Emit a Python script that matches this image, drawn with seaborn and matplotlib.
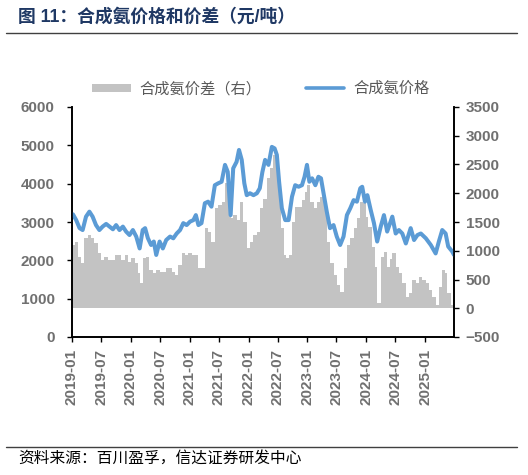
import numpy as np
import pandas as pd
import matplotlib
matplotlib.use("Agg")
import matplotlib.pyplot as plt
import matplotlib.dates as mdates
from matplotlib.patches import Patch
from matplotlib.lines import Line2D
import seaborn as sns

# ---------------- data ----------------
price_dates = [
    "2019-01-02", "2019-01-07", "2019-01-27", "2019-02-17", "2019-03-08", "2019-03-29", "2019-04-19",
    "2019-05-09", "2019-05-30", "2019-06-20", "2019-07-10", "2019-08-01", "2019-08-22",
    "2019-09-12", "2019-10-02", "2019-10-23", "2019-11-13", "2019-12-03", "2019-12-24",
    "2020-01-14", "2020-02-04", "2020-02-25", "2020-03-15", "2020-03-30", "2020-04-16",
    "2020-05-06", "2020-05-23", "2020-06-07", "2020-06-28", "2020-07-18", "2020-08-08",
    "2020-09-01", "2020-09-21", "2020-10-12", "2020-11-02", "2020-11-22", "2020-12-13",
    "2021-01-03", "2021-01-24", "2021-02-08", "2021-02-24", "2021-03-15", "2021-04-05",
    "2021-04-25", "2021-05-16", "2021-06-06", "2021-06-27", "2021-07-18", "2021-08-08",
    "2021-08-25", "2021-09-12", "2021-09-28", "2021-10-19", "2021-11-03", "2021-11-20",
    "2021-12-06", "2021-12-21", "2022-01-10", "2022-02-01", "2022-02-22", "2022-03-12",
    "2022-03-28", "2022-04-14", "2022-05-05", "2022-05-26", "2022-06-12", "2022-06-26",
    "2022-07-10", "2022-07-27", "2022-08-17", "2022-09-07", "2022-09-28", "2022-10-18",
    "2022-11-08", "2022-11-29", "2022-12-15", "2022-12-30", "2023-01-14", "2023-01-31",
    "2023-02-20", "2023-03-11", "2023-03-27", "2023-04-12", "2023-05-02", "2023-05-22",
    "2023-06-13", "2023-07-03", "2023-07-24", "2023-08-14", "2023-09-04", "2023-09-25",
    "2023-10-16", "2023-11-05", "2023-11-26", "2023-12-08", "2023-12-25", "2024-01-09",
    "2024-01-30", "2024-02-19", "2024-03-10", "2024-04-01", "2024-04-21", "2024-05-11",
    "2024-06-12", "2024-07-03", "2024-07-23", "2024-08-13", "2024-09-04", "2024-10-04",
    "2024-10-25", "2024-11-15", "2024-12-06", "2025-01-06", "2025-02-06", "2025-03-08",
    "2025-03-28", "2025-04-18", "2025-05-09", "2025-05-25", "2025-06-19", "2025-06-30",
]
price_values = [
    3200, 3200, 3050, 2840, 2790, 3140, 3270,
    3140, 2920, 2790, 2880, 2950, 2880,
    2810, 2920, 2790, 2880, 2750, 2660,
    2790, 2620, 2310, 2790, 2840, 2580,
    2400, 2490, 2140, 2490, 2310, 2530,
    2620, 2575, 2700, 2790, 2970, 2920,
    3010, 3050, 3180, 2920, 2970, 3490,
    3530, 3400, 3960, 4010, 4050, 4490,
    4310, 3180, 4400, 4570, 4880, 4620,
    4010, 3700, 3750, 3700, 3750, 3880,
    4300, 4620, 4490, 4960, 4920, 4750,
    4050, 3360, 3050, 3050, 3660, 3960,
    3920, 3960, 4180, 4490, 4050, 4140,
    3960, 4180, 4140, 3750, 3270, 2840,
    2920, 2620, 2400, 2620, 3180, 3360,
    3570, 3530, 3880, 3920, 3530, 3700,
    3310, 2970, 2490, 2880, 3180, 2750,
    3140, 2700, 2790, 2700, 2440, 2840,
    2530, 2660, 2700, 2575, 2400, 2180,
    2490, 2790, 2700, 2360, 2230, 2140,
]

spread_dates = [
    "2019-01-02", "2019-01-17", "2019-02-07", "2019-02-28", "2019-03-19", "2019-04-09", "2019-04-29",
    "2019-05-20", "2019-06-10", "2019-07-01", "2019-07-21", "2019-08-11", "2019-09-01",
    "2019-09-22", "2019-10-12", "2019-11-02", "2019-11-23", "2019-12-14", "2020-01-04",
    "2020-01-25", "2020-02-15", "2020-02-25", "2020-03-15", "2020-04-05", "2020-04-26",
    "2020-05-17", "2020-06-07", "2020-06-28", "2020-07-18", "2020-08-08", "2020-08-20",
    "2020-09-11", "2020-10-01", "2020-10-22", "2020-11-12", "2020-12-02", "2020-12-23",
    "2021-01-14", "2021-02-03", "2021-02-24", "2021-03-15", "2021-04-05", "2021-04-25",
    "2021-05-16", "2021-06-06", "2021-06-27", "2021-07-18", "2021-08-08", "2021-08-25",
    "2021-09-12", "2021-09-28", "2021-10-19", "2021-11-09", "2021-11-30", "2021-12-21",
    "2022-01-10", "2022-02-01", "2022-02-22", "2022-03-12", "2022-04-03", "2022-04-25",
    "2022-05-15", "2022-06-05", "2022-06-20", "2022-07-06", "2022-07-22", "2022-08-07",
    "2022-08-21", "2022-09-07", "2022-09-28", "2022-10-18", "2022-11-08", "2022-11-29",
    "2022-12-15", "2022-12-30", "2023-01-20", "2023-02-10", "2023-03-01", "2023-03-21",
    "2023-04-12", "2023-05-02", "2023-05-22", "2023-06-13", "2023-07-03", "2023-07-24",
    "2023-08-14", "2023-09-04", "2023-09-25", "2023-10-16", "2023-11-05", "2023-11-26",
    "2023-12-13", "2023-12-29", "2024-01-15", "2024-02-05", "2024-02-26", "2024-03-10",
    "2024-04-01", "2024-04-21", "2024-05-11", "2024-05-28", "2024-06-12", "2024-07-03",
    "2024-07-23", "2024-08-13", "2024-09-04", "2024-09-24", "2024-10-14", "2024-11-05",
    "2024-11-25", "2024-12-16", "2025-01-06", "2025-01-27", "2025-02-16", "2025-03-08",
    "2025-03-28", "2025-04-18", "2025-05-04", "2025-05-19", "2025-06-09", "2025-06-29",
]
spread_values = [
    1100, 1157, 896, 782, 1217, 1274, 1217,
    1130, 957, 839, 896, 839, 839,
    926, 926, 839, 926, 809, 868,
    782, 607, 433, 868, 896, 665,
    607, 665, 636, 636, 694, 694,
    636, 578, 752, 955, 926, 955,
    926, 926, 694, 694, 1390, 1331,
    1157, 1738, 1796, 1853, 2173, 2086,
    1564, 1622, 1535, 1853, 1506, 1043,
    1157, 1274, 1331, 1738, 1900, 2260,
    2433, 2665, 2607, 2086, 1390, 926,
    868, 926, 1506, 1767, 1767, 1883,
    2027, 2143, 1853, 1738, 1853, 1940,
    1738, 1157, 782, 578, 404, 289,
    694, 1100, 1217, 1390, 1564, 1853,
    1825, 1593, 1418, 1070, 723, 86,
    896, 984, 723, 850, 955, 723,
    607, 433, 201, 259, 491, 433,
    549, 491, 433, 317, 201, 57,
    375, 665, 607, 259, 57, 143,
]

tick_dates = ["2019-01-01", "2019-07-01", "2020-01-01", "2020-07-01", "2021-01-01",
              "2021-07-01", "2022-01-01", "2022-07-01", "2023-01-01", "2023-07-01",
              "2024-01-01", "2024-07-01", "2025-01-01"]
x_start, x_end = "2019-01-01", "2025-06-30"

title_text = "图 11：合成氨价格和价差（元/吨）"
source_text = "资料来源：百川盈孚，信达证券研发中心"
price_label = "合成氨价格"
spread_label = "合成氨价差（右）"

# ---------------- styling ----------------
sns.set_theme(style="white")
plt.rcParams["font.family"] = ["Liberation Sans", "Noto Sans CJK SC", "DejaVu Sans"]

line_color = "#5B9BD5"
bar_color = "#C3C3C3"
tick_color = "#707070"

df_price = pd.DataFrame({"date": pd.to_datetime(price_dates), "price": price_values})
df_spread = pd.DataFrame({"date": pd.to_datetime(spread_dates), "spread": spread_values})
edges = list(df_spread["date"]) + [pd.Timestamp(x_end)]
widths = np.diff(mdates.date2num(edges))

fig = plt.figure(figsize=(5.28, 4.75), dpi=100)
ax = fig.add_axes([72 / 528, 1 - 337 / 475, (454 - 72) / 528, (337 - 107) / 475])
ax2 = ax.twinx()

ax2.bar(df_spread["date"], df_spread["spread"], width=widths, align="edge",
        color=bar_color, linewidth=0)
sns.lineplot(data=df_price, x="date", y="price", ax=ax, color=line_color,
             linewidth=2.9, legend=False)

ax.set_zorder(ax2.get_zorder() + 1)
ax.patch.set_visible(False)

ax.set_ylim(0, 6000)
ax.set_yticks(np.arange(0, 6001, 1000))
ax2.set_ylim(-500, 3500)
ax2.set_yticks(np.arange(-500, 3501, 500))
ax.set_xlim(pd.Timestamp(x_start), pd.Timestamp(x_end))
ax.set_xticks(pd.to_datetime(tick_dates))
ax.xaxis.set_major_formatter(mdates.DateFormatter("%Y-%m"))
ax.set_xlabel("")
ax.set_ylabel("")
ax2.set_ylabel("")

for a in (ax, ax2):
    a.spines["top"].set_visible(False)
    for s in ("left", "right", "bottom"):
        a.spines[s].set_color("black")
        a.spines[s].set_linewidth(1.2)
    a.grid(False)

ax.tick_params(axis="y", direction="out", length=3.5, width=1, color="black", pad=9,
               left=True, labelsize=11, labelcolor=tick_color)
ax.tick_params(axis="x", direction="out", length=3.5, width=1, color="black", pad=5,
               bottom=True, labelsize=11, labelcolor=tick_color, labelrotation=90)
ax2.tick_params(axis="y", direction="out", length=3.5, width=1, color="black", pad=5,
                right=True, labelsize=11, labelcolor=tick_color)
for lab in ax.get_xticklabels() + ax.get_yticklabels() + ax2.get_yticklabels():
    lab.set_fontweight("bold")

# legend
handles = [Patch(facecolor=bar_color, edgecolor="none"),
           Line2D([0], [0], color=line_color, linewidth=2.6)]
fig.legend(handles, [spread_label, price_label], loc="center", ncol=2,
           bbox_to_anchor=(261 / 528, 1 - 89 / 475), frameon=False,
           fontsize=11, labelcolor="#595959", handlelength=2.5, handleheight=0.45,
           columnspacing=2.9, handletextpad=0.6)

# title and source
fig.text(18 / 528, 1 - 17 / 475, title_text, fontsize=12.8, fontweight="bold",
         color="#1F3864", ha="left", va="center")
fig.add_artist(Line2D([6 / 528, 517 / 528], [1 - 33 / 475, 1 - 33 / 475],
                      color="#404040", linewidth=1.0))
fig.add_artist(Line2D([6 / 528, 517 / 528], [1 - 447 / 475, 1 - 447 / 475],
                      color="#404040", linewidth=1.0))
fig.text(18 / 528, 1 - 458 / 475, source_text, fontsize=11.3, style="italic",
         color="black", ha="left", va="center")

fig.savefig("out.png", dpi=100)
